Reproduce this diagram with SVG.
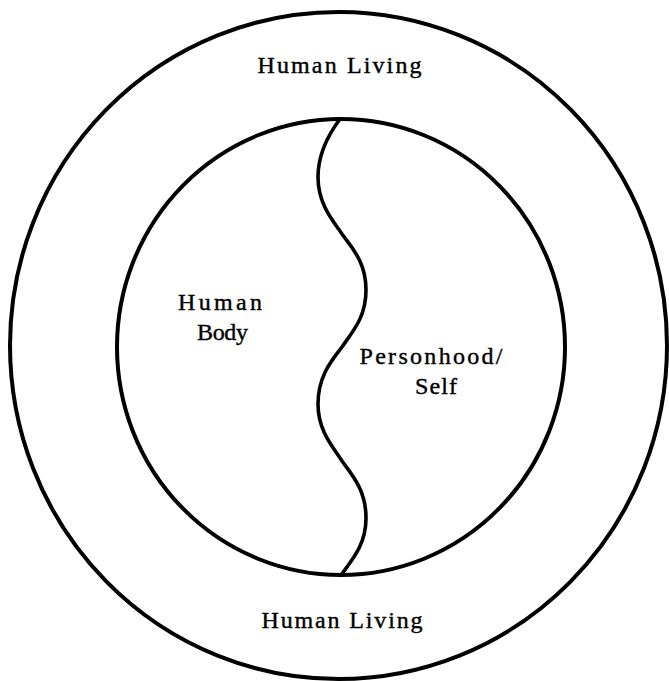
<svg xmlns="http://www.w3.org/2000/svg" width="669" height="681" viewBox="0 0 669 681">
<style>
.ring{fill:none;stroke:#000;stroke-width:4}
.wave{fill:none;stroke:#000;stroke-width:3.6;stroke-linecap:round}
.lbl{font-family:"Liberation Serif","Times New Roman",serif;font-size:24px;fill:#000;stroke:#000;stroke-width:0.4;text-anchor:middle}
</style>
<rect width="669" height="681" fill="#fff"/>
<g id="outer-human-living">
<ellipse class="ring" cx="338.5" cy="345.5" rx="328.5" ry="333.5"/>
<text class="lbl" x="339.5" y="73" textLength="164" lengthAdjust="spacing">Human Living</text>
<text class="lbl" x="342" y="628" textLength="161" lengthAdjust="spacing">Human Living</text>
</g>
<g id="inner-circle">
<ellipse class="ring" cx="341" cy="347" rx="224" ry="228"/>
</g>
<g id="human-body">
<text class="lbl" x="220" y="310" textLength="84" lengthAdjust="spacing">Human</text>
<text class="lbl" x="222.5" y="340" textLength="51" lengthAdjust="spacing">Body</text>
</g>
<g id="personhood-self">
<text class="lbl" x="431" y="364" textLength="143" lengthAdjust="spacing">Personhood/</text>
<text class="lbl" x="436" y="394" textLength="42" lengthAdjust="spacing">Self</text>
</g>
<g id="connectors">
<path class="wave" d="M340,119 C328,135 318,155 318,177 C318,205 334,222 342,234 C352,248 366,262 366,290 C366,318 352,332 342,347 C332,360 318,376 318,404 C318,432 334,448 342,461 C352,475 366,490 366,518 C366,545 352,560 341,575"/>
</g>
</svg>
